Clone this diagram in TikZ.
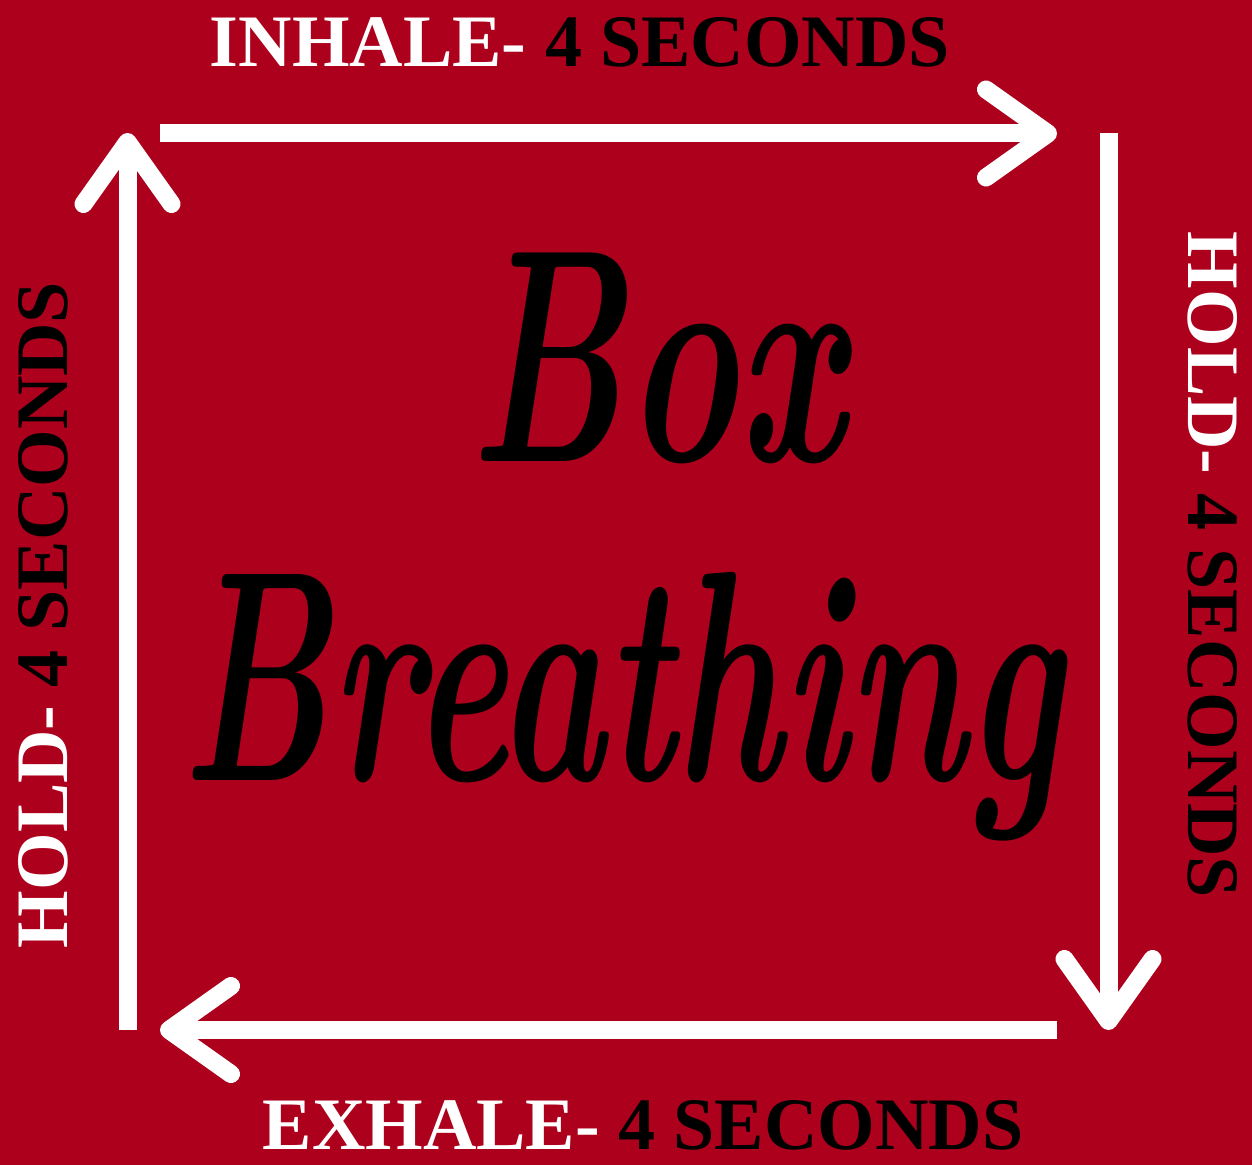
\documentclass[tikz,border=0pt]{standalone}
\usepackage{fontspec}
\usepackage{xcolor}
\usepackage{graphicx}
\usepackage{tikz}
\usetikzlibrary{arrows.meta}
\newfontfamily\labelfont{Liberation Serif}
\definecolor{boxred}{HTML}{AC001C}
\tikzset{
  flow/.style={-{Straight Barb[length=31pt, width=44pt, round]}, line width=9pt, draw=white},
  steplabel/.style={font=\labelfont\bfseries\fontsize{37}{40}\selectfont, text=black, inner sep=0pt, anchor=base},
  title/.style={font=\bfseries\itshape, text=black, inner sep=0pt, anchor=base},
}

\begin{document}
\begin{tikzpicture}[x=0.5pt, y=-0.5pt]
  % Background
  \fill[boxred] (0,0) rectangle (1252,1165);
  \useasboundingbox (0,0) rectangle (1252,1165);

  % Corners of the box
  \coordinate (inA) at (160,133.5);
  \coordinate (inB) at (1057,133.5);
  \coordinate (hrA) at (1108.5,133);
  \coordinate (hrB) at (1108.5,1030);
  \coordinate (exA) at (1057,1030);
  \coordinate (exB) at (160,1030);
  \coordinate (hlA) at (127.5,1030);
  \coordinate (hlB) at (127.5,133);

  % Arrows
  \draw[flow] (inA) -- (inB);
  \draw[flow] (hrA) -- (hrB);
  \draw[flow] (exA) -- (exB);
  \draw[flow] (hlA) -- (hlB);

  % Step labels
  \node[steplabel] (inhale) at (580,67) {\textcolor{white}{INHALE-} 4 SECONDS};
  \node[steplabel, rotate=-90] (holdR) at (1188,565) {\textcolor{white}{HOLD-} 4 SECONDS};
  \node[steplabel] (exhale) at (643,1149) {\textcolor{white}{EXHALE-} 4 SECONDS};
  \node[steplabel, rotate=90] (holdL) at (67,615) {\textcolor{white}{HOLD-} 4 SECONDS};

  % Title
  \node[title] (box) at (657,462) {\scalebox{1}[1.6]{\fontsize{95}{95}\selectfont Box}};
  \node[title] (breathing) at (622,780) {\scalebox{1}[1.65]{\fontsize{91}{91}\selectfont Breathing}};
\end{tikzpicture}
\end{document}
